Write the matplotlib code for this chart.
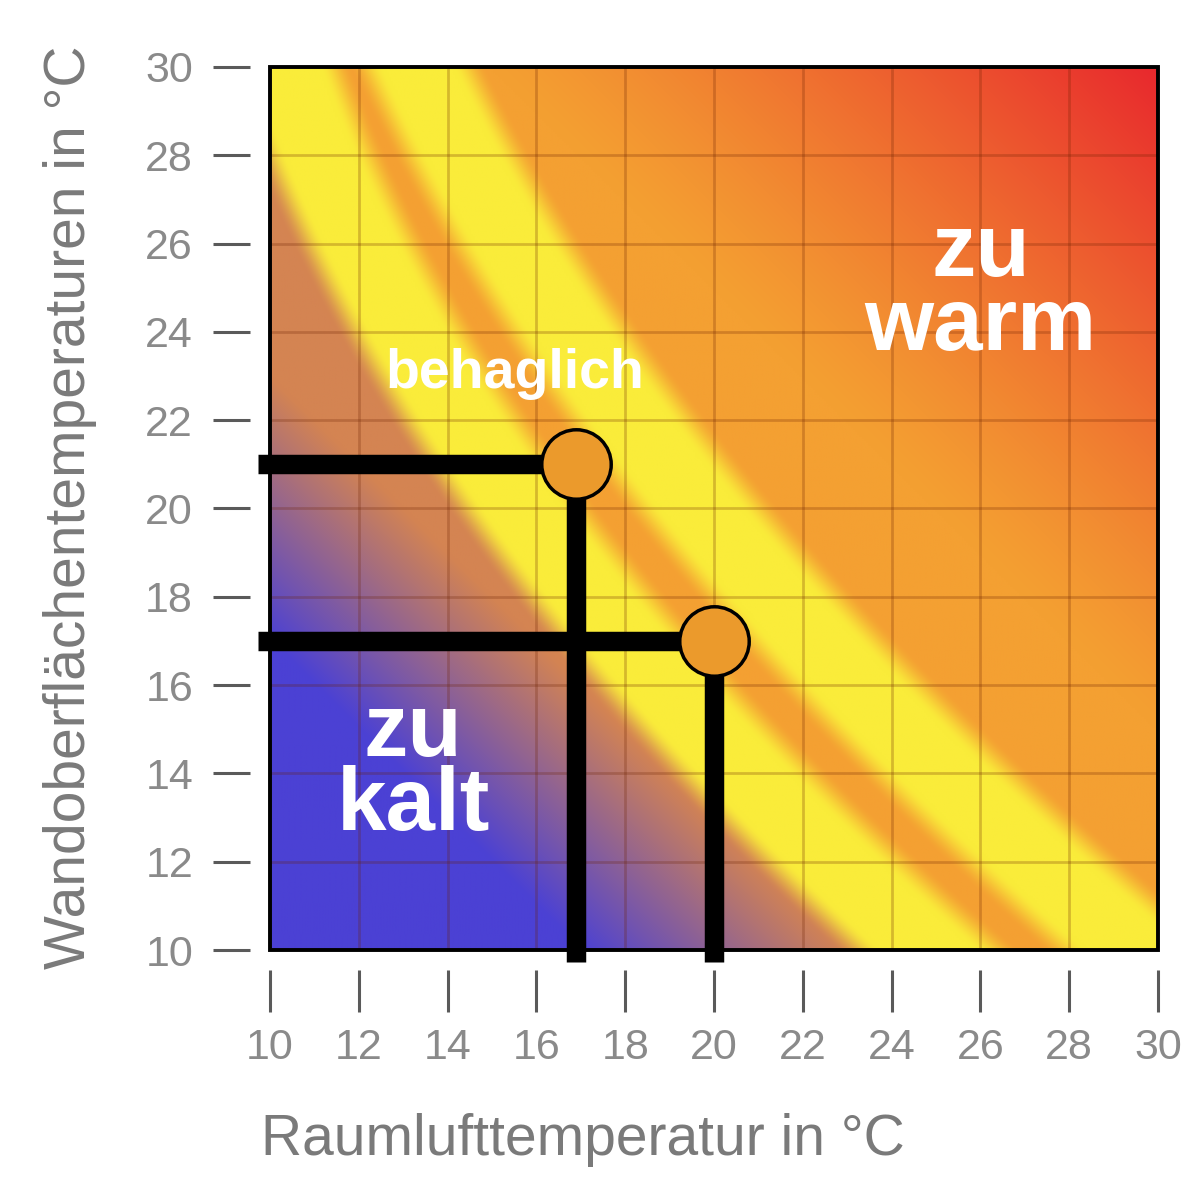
import numpy as np
import matplotlib.pyplot as plt
from matplotlib.patches import Rectangle

plt.rcParams['font.family'] = ['Liberation Sans', 'DejaVu Sans']

# axis ticks (degrees C)
ticks = list(range(10, 31, 2))

# centre lines of the two yellow comfort bands (air temp, wall temp)
inner_x = [10.0, 10.7, 12.6, 16.5, 20.3, 24.4, 25.9]
inner_y = [31.0, 29.25, 24.7, 19.06, 14.3, 10.45, 9.0]
outer_x = [13.0, 13.6, 16.2, 20.3, 25.2, 29.0, 30.5]
outer_y = [31.0, 29.25, 24.7, 19.06, 14.3, 10.45, 9.0]

# the two example states
point_x = [16.9, 20.0]
point_y = [21.0, 17.0]


def smooth_curve(bx, by):
    # quadratic x(y) through the read centre points, sampled finely
    c = np.polyfit(by, bx, 2)
    ys = np.linspace(7, 33, 300)
    return np.polyval(c, ys), ys


def band_dist(gx, gy, bx, by):
    # shortest distance from every grid point to the curve
    cx, cy = smooth_curve(bx, by)
    d = np.full(gx.shape, np.inf)
    for i in range(len(cx) - 1):
        x0, y0 = cx[i], cy[i]
        vx, vy = cx[i + 1] - x0, cy[i + 1] - y0
        t = ((gx - x0) * vx + (gy - y0) * vy) / (vx * vx + vy * vy)
        t = np.clip(t, 0, 1)
        d = np.minimum(d, np.hypot(gx - x0 - t * vx, gy - y0 - t * vy))
    return d, cx, cy


def band_weight(d, half=1.05, soft=0.7):
    w = np.clip((half + soft / 2 - d) / soft, 0, 1)
    return w * w * (3 - 2 * w)


n = 400
g = np.linspace(10, 30, n)
gx, gy = np.meshgrid(g, g)

blue = np.array([75, 65, 212]) / 255
brown = np.array([212, 132, 82]) / 255
orange = np.array([244, 160, 50]) / 255
red = np.array([232, 40, 45]) / 255
yellow = np.array([250, 236, 58]) / 255

d_in, cx, cy = band_dist(gx, gy, inner_x, inner_y)
d_out, _, _ = band_dist(gx, gy, outer_x, outer_y)
s = gx + gy

# cold side (left of the inner band): brown fading into blue
cold = (gx < np.interp(gy, cy, cx))[..., None]
wb = np.clip((33 - s) / 6, 0, 1)[..., None]
cold_col = brown * (1 - wb) + blue * wb

# warm side: orange turning red towards the upper right
wr = (np.clip((s - 45) / 15, 0, 1) ** 1.2)[..., None]
warm_col = orange * (1 - wr) + red * wr

img = np.where(cold, cold_col, warm_col)

wy = np.maximum(band_weight(d_in), band_weight(d_out))[..., None]
img = img * (1 - wy) + yellow * wy

fig = plt.figure(figsize=(12.04, 12.04), dpi=100)
ax = fig.add_axes([270 / 1204, 1 - 950 / 1204, 888 / 1204, 883 / 1204])
ax.imshow(img, extent=[10, 30, 10, 30], origin='lower', aspect='auto',
          interpolation='bilinear', zorder=0)
ax.set_xlim(10, 30)
ax.set_ylim(10, 30)
ax.set_xticks(ticks)
ax.set_yticks(ticks)
ax.grid(True, color='#6a2000', alpha=0.25, lw=2)

for sp in ax.spines.values():
    sp.set_visible(False)
ax.spines['left'].set_position(('outward', 14.4))
ax.spines['bottom'].set_position(('outward', 14.4))
ax.add_patch(Rectangle((0, 0), 1, 1, transform=ax.transAxes, fill=False,
                       lw=2.8, ec='black', zorder=3, clip_on=False))

ax.tick_params(axis='y', length=27, width=2.2, color='#5a5a5a', pad=14,
               labelsize=31, labelcolor='#8a8a8a')
ax.tick_params(axis='x', length=30, width=2.2, color='#5a5a5a', pad=12,
               labelsize=31, labelcolor='#8a8a8a')

# example state lines, running out of the frame
lo = 9.73
for px, py in zip(point_x, point_y):
    ax.plot([lo, px], [py, py], color='black', lw=14, solid_capstyle='butt',
            clip_on=False, zorder=4)
    ax.plot([px, px], [py, lo], color='black', lw=14, solid_capstyle='butt',
            clip_on=False, zorder=4)
ax.plot(point_x, point_y, 'o', ms=50, mfc='#eb9a2c', mec='black', mew=2.5,
        clip_on=False, zorder=5)

ax.text(26.0, 24.95, 'zu\nwarm', color='white', fontsize=64, fontweight='bold',
        ha='center', va='center', linespacing=0.85, zorder=6)
ax.text(13.22, 14.08, 'zu\nkalt', color='white', fontsize=64, fontweight='bold',
        ha='center', va='center', linespacing=0.85, zorder=6)
ax.text(15.52, 23.05, 'behaglich', color='white', fontsize=40, fontweight='bold',
        ha='center', va='center', zorder=6)

fig.text(583 / 1204, 1 - 1140 / 1204, 'Raumlufttemperatur in °C',
         fontsize=41, color='#7a7a7a', ha='center', va='center')
fig.text(70 / 1204, 1 - 507 / 1204, 'Wandoberflächentemperaturen in °C',
         fontsize=41, color='#7a7a7a', ha='center', va='center', rotation=90)

fig.savefig('out.png', dpi=100)
